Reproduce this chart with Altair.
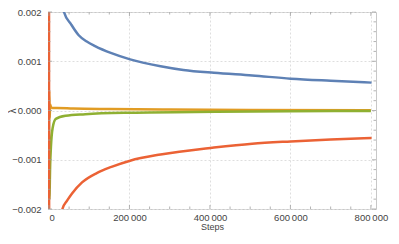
import altair as alt
import pandas as pd

# ---- data ----
blue_t = [20000, 37300, 55000, 73900, 94000, 114600, 155300, 201700, 277300, 334000, 410000, 505000, 600700, 700000, 801700]
blue_v = [0.0028, 0.002, 0.00175, 0.001528, 0.0014, 0.001308, 0.001164, 0.001038, 0.0009, 0.000824, 0.000765, 0.000711, 0.000647, 0.000604, 0.000566]

yel_t = [0, 800, 1800, 3000, 5000, 9000, 20000, 60000, 150000, 300000, 500000, 800000]
yel_v = [0, 0.0004, -0.00015, 0.00012, 0.00007, 0.00005, 0.00005, 0.00004, 0.00003, 0.00002, 0.00001, 0.000005]

grn_t = [0, 1000, 3000, 4900, 9000, 17000, 41500, 90000, 201700, 415000, 600000, 800000]
grn_v = [0, -0.0018, -0.0011, -0.00074, -0.00036, -0.00017, -0.000107, -0.000075, -0.000044, -0.000025, -0.000015, -0.00001]

red_t = [0, 600, 20000, 33400, 45000, 57800, 82200, 118800, 155300, 201700, 277300, 410000, 505000, 600700, 700000, 801700]
red_v = [0.0035, -0.0035, -0.0026, -0.002, -0.00183, -0.001679, -0.001459, -0.00127, -0.001145, -0.001019, -0.000893, -0.000752, -0.000673, -0.000628, -0.000591, -0.00056]

x_major = [0, 200000, 400000, 600000, 800000]
x_minor = [50000, 100000, 150000, 250000, 300000, 350000, 450000, 500000, 550000, 650000, 700000, 750000]
y_major = [-0.002, -0.001, 0.0, 0.001, 0.002]
y_minor = [-0.0018, -0.0016, -0.0014, -0.0012, -0.0008, -0.0006, -0.0004, -0.0002,
           0.0002, 0.0004, 0.0006, 0.0008, 0.0012, 0.0014, 0.0016, 0.0018]

W, H = 328, 197
XDOM = [-2400, 812700]
YDOM = [-0.002, 0.002]

xs = alt.Scale(domain=XDOM, nice=False, zero=False)
ys = alt.Scale(domain=YDOM, nice=False, zero=False)

x_axis = alt.Axis(
    values=x_major, title="Steps", grid=True, gridDash=[2, 2], gridColor="#dedede",
    ticks=False, domain=False, labelPadding=3,
    labelExpr="replace(format(datum.value, ','), ',', '\u2009')",
    titlePadding=1, titleFontSize=9, titleFontWeight="normal",
)
y_axis = alt.Axis(
    values=y_major, title="λ", grid=True, gridDash=[2, 2], gridColor="#dedede",
    ticks=False, domain=False, labelPadding=7, format=".3f",
    titleX=-36, titleY=H / 2, titleBaseline="middle",
    titleFontSize=10, titleFontWeight="normal",
)


def series(t, v, color):
    df = pd.DataFrame({"t": t, "v": v, "i": range(len(t))})
    return alt.Chart(df).mark_line(
        clip=True, color=color, strokeWidth=2.5, interpolate="monotone"
    ).encode(
        x=alt.X("t:Q", scale=xs, axis=x_axis),
        y=alt.Y("v:Q", scale=ys, axis=y_axis),
        order="i:Q",
    )


blue = series(blue_t, blue_v, "#5E81B5")
yel = series(yel_t, yel_v, "#E19C24")
grn = series(grn_t, grn_v, "#8FB032")
red = series(red_t, red_v, "#EB6235")

tick_col = "#a0a0a0"
xt_major = pd.DataFrame({"t": x_major})
xt_minor = pd.DataFrame({"t": x_minor})
yt_major = pd.DataFrame({"v": y_major})
yt_minor = pd.DataFrame({"v": y_minor})


def xticks(df, ln):
    base = alt.Chart(df).mark_rule(color=tick_col, strokeWidth=0.8)
    b = base.encode(x=alt.X("t:Q", scale=xs, axis=x_axis), y=alt.value(H), y2=alt.value(H - ln))
    t = base.encode(x=alt.X("t:Q", scale=xs, axis=x_axis), y=alt.value(0), y2=alt.value(ln))
    return b + t


def yticks(df, ln):
    base = alt.Chart(df).mark_rule(color=tick_col, strokeWidth=0.8)
    l = base.encode(y=alt.Y("v:Q", scale=ys, axis=y_axis), x=alt.value(0), x2=alt.value(ln))
    r = base.encode(y=alt.Y("v:Q", scale=ys, axis=y_axis), x=alt.value(W), x2=alt.value(W - ln))
    return l + r


chart = alt.layer(
    blue, yel, grn, red,
    xticks(xt_major, 4), xticks(xt_minor, 2.5),
    yticks(yt_major, 4), yticks(yt_minor, 2.5),
).properties(
    width=W, height=H,
    autosize=alt.AutoSizeParams(type="none"),
    padding={"left": 40, "top": 4, "right": 15, "bottom": 27},
).configure_view(
    stroke="#c8c8c8", strokeWidth=1
).configure_axis(
    labelFont="Liberation Sans", titleFont="Liberation Sans",
    labelFontSize=9.5, labelColor="#444444", titleColor="#444444",
)

chart.save("out.html", embed_options={"renderer": "svg", "actions": False})
